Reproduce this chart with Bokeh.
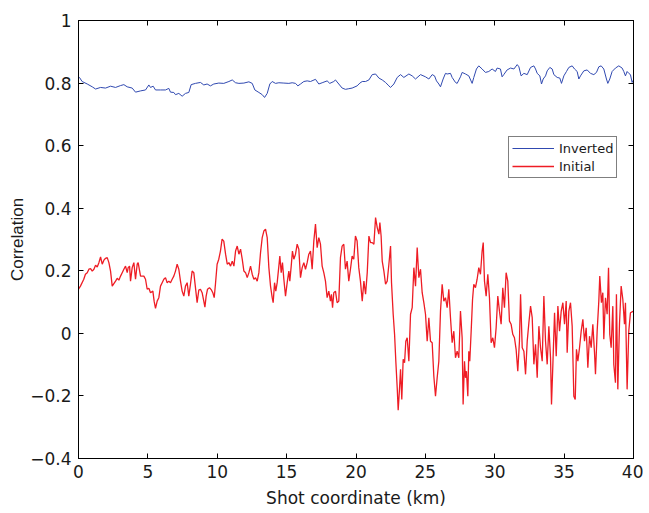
from bokeh.plotting import figure
from bokeh.models import Range1d, FixedTicker, LinearAxis, Legend, LegendItem
from bokeh.embed import file_html
from bokeh.resources import INLINE

# ---------------- data ----------------
x_ticks = [0, 5, 10, 15, 20, 25, 30, 35, 40]
y_ticks = [-0.4, -0.2, 0, 0.2, 0.4, 0.6, 0.8, 1]
y_tick_labels = ["\u22120.4", "\u22120.2", "0", "0.2", "0.4", "0.6", "0.8", "1"]

initial_x = [
    0.0, 0.14, 0.38, 0.5, 0.63, 0.75, 0.87, 0.99, 1.11, 1.23, 1.35, 1.47, 1.59, 1.71, 1.83, 1.95,
    2.07, 2.19, 2.31, 2.43, 2.55, 2.67, 2.79, 2.91, 3.03, 3.15, 3.27, 3.39, 3.51, 3.58, 3.68, 3.75,
    3.87, 3.99, 4.11, 4.23, 4.3, 4.47, 4.71, 4.83, 4.95, 5.07, 5.19, 5.36, 5.45, 5.55, 5.67, 5.79,
    5.91, 6.03, 6.15, 6.27, 6.39, 6.51, 6.63, 6.75, 6.87, 6.99, 7.11, 7.23, 7.35, 7.47, 7.59, 7.71,
    7.83, 7.95, 8.07, 8.19, 8.31, 8.43, 8.55, 8.67, 8.79, 8.91, 9.03, 9.11, 9.2, 9.3, 9.44, 9.59,
    9.68, 9.78, 9.87, 9.99, 10.11, 10.23, 10.35, 10.47, 10.6, 10.72, 10.84, 10.96, 11.08, 11.2,
    11.32, 11.44, 11.56, 11.68, 11.8, 11.92, 12.04, 12.16, 12.28, 12.4, 12.52, 12.64, 12.76, 12.88,
    13.0, 13.12,
    13.24, 13.36, 13.48, 13.6, 13.72, 13.84, 13.96, 14.03, 14.13, 14.22, 14.32, 14.44, 14.51, 14.61,
    14.7, 14.8, 14.92, 15.04, 15.16, 15.23, 15.33, 15.42, 15.52, 15.64, 15.76, 15.88, 16.0, 16.12,
    16.24, 16.36, 16.48, 16.6, 16.72, 16.84, 16.96, 17.08, 17.2, 17.32, 17.44, 17.56, 17.68, 17.8,
    17.92, 18.04, 18.16, 18.23, 18.31, 18.4, 18.52, 18.64, 18.76, 18.88, 19.0, 19.12, 19.24, 19.36,
    19.48, 19.6, 19.72, 19.84, 19.96, 20.08, 20.2, 20.32, 20.45, 20.57, 20.69, 20.81, 20.93, 21.05,
    21.17, 21.29, 21.41, 21.53, 21.65, 21.72, 21.81, 21.89, 22.01, 22.13, 22.25, 22.37, 22.49, 22.56,
    22.68, 22.78, 22.87, 22.97, 23.04, 23.14, 23.21, 23.3, 23.4, 23.5, 23.59, 23.69, 23.81, 23.93,
    24.05, 24.17, 24.29, 24.41, 24.53, 24.65, 24.77, 24.89, 25.01, 25.13, 25.25, 25.37, 25.49, 25.61,
    25.73, 25.85, 25.97, 26.09,
    26.21, 26.33, 26.45, 26.57, 26.69, 26.81, 26.93, 27.05, 27.17, 27.29, 27.41, 27.53, 27.65, 27.72,
    27.82, 27.89, 27.96, 28.06, 28.13, 28.2, 28.3, 28.4, 28.49, 28.61, 28.73, 28.85, 28.97, 29.09,
    29.17, 29.26, 29.38, 29.5, 29.62, 29.74, 29.86, 29.98, 30.1, 30.22, 30.34, 30.46, 30.58, 30.7,
    30.82, 30.94, 31.06, 31.18, 31.3, 31.42, 31.54, 31.66, 31.78, 31.86, 31.98, 32.1, 32.22, 32.34,
    32.46, 32.58, 32.7, 32.82, 32.94, 33.06, 33.18, 33.3, 33.42, 33.54, 33.66, 33.78, 33.9, 34.02,
    34.09, 34.19, 34.31, 34.43, 34.55, 34.67, 34.79, 34.91, 35.03, 35.15, 35.22, 35.34, 35.46, 35.58,
    35.7, 35.8, 35.89, 35.99, 36.11, 36.23, 36.35, 36.47, 36.59, 36.71, 36.83, 36.95, 37.07, 37.19,
    37.26, 37.38, 37.5, 37.57, 37.69, 37.79, 37.86, 37.98, 38.1, 38.2, 38.29, 38.39, 38.51, 38.58,
    38.7, 38.77, 38.87, 38.99, 39.11, 39.23, 39.35, 39.42, 39.54, 39.66, 39.78, 40.0,
]
initial_y = [
    0.141, 0.151, 0.173, 0.189, 0.194, 0.205, 0.207, 0.199, 0.205, 0.218,
    0.212, 0.226, 0.244, 0.221, 0.234, 0.24, 0.242, 0.226, 0.199, 0.151,
    0.159, 0.167, 0.176, 0.17, 0.183, 0.194, 0.205, 0.215, 0.194, 0.21,
    0.215, 0.167, 0.21, 0.226, 0.173, 0.221, 0.226, 0.183, 0.183, 0.173,
    0.141, 0.144, 0.13, 0.135, 0.103, 0.08, 0.103, 0.114, 0.151, 0.162,
    0.173, 0.178, 0.162, 0.167, 0.162, 0.173, 0.183, 0.199, 0.221, 0.205,
    0.167, 0.135, 0.119, 0.151, 0.162, 0.119, 0.157, 0.199, 0.194, 0.146,
    0.098, 0.138, 0.141, 0.13, 0.103, 0.084, 0.119, 0.141, 0.146, 0.138,
    0.13, 0.114, 0.157, 0.221, 0.237, 0.263, 0.301, 0.295, 0.253, 0.221,
    0.226, 0.215, 0.231, 0.215, 0.263, 0.279, 0.253, 0.269, 0.237, 0.199,
    0.194, 0.178, 0.194, 0.215, 0.189, 0.173, 0.178, 0.167, 0.194, 0.258,
    0.306, 0.327, 0.333, 0.306, 0.21, 0.151, 0.114, 0.098, 0.162, 0.135,
    0.162, 0.215, 0.247, 0.194, 0.226, 0.173, 0.119, 0.162, 0.199, 0.167,
    0.215, 0.263, 0.237, 0.253, 0.285, 0.269, 0.178, 0.21, 0.226, 0.205,
    0.226, 0.253, 0.263, 0.205, 0.295, 0.349, 0.274, 0.306, 0.285, 0.215,
    0.194, 0.167, 0.114, 0.135, 0.103, 0.125, 0.082, 0.13, 0.135, 0.098,
    0.103, 0.242, 0.279, 0.285, 0.205, 0.231, 0.167, 0.205, 0.247, 0.237,
    0.311, 0.295, 0.21, 0.167, 0.103, 0.167, 0.125, 0.194, 0.311, 0.29,
    0.29, 0.285, 0.37, 0.338, 0.317, 0.354, 0.311, 0.231, 0.199, 0.157,
    0.167, 0.221, 0.279, 0.162, 0.061, -0.003, -0.089, -0.174, -0.246, -0.174,
    -0.115, -0.211, -0.083, -0.094, -0.025, -0.014, -0.089, 0.061, 0.082, 0.21,
    0.151, 0.274, 0.178, 0.205, 0.13, 0.098, 0.061, -0.025, 0.05, -0.025,
    -0.03, -0.137, -0.201, -0.142, -0.089, 0.071,
    0.157, 0.103, 0.114, 0.082, 0.141, 0.05, -0.03, 0.007, -0.078, -0.057,
    -0.078, 0.071, -0.014, -0.227, -0.089, -0.142, -0.121, -0.201, -0.057, -0.089,
    0.007, 0.109, 0.157, 0.146, 0.173, 0.21, 0.189, 0.263, 0.29, 0.167,
    0.119, 0.189, 0.114, -0.03, -0.014, -0.046, 0.018, 0.119, 0.071, 0.029,
    0.146, 0.082, 0.194, 0.167, 0.039, 0.029, -0.003, -0.014, -0.051, -0.121,
    -0.025, 0.125, -0.046, -0.057, -0.131, -0.025, 0.034, 0.087, 0.05, -0.099,
    -0.035, -0.142, 0.023, -0.046, -0.089, 0.119, -0.025, -0.099, 0.023, -0.078,
    -0.227, -0.099, 0.066, -0.073, 0.087, 0.007, 0.071, 0.098, 0.029, 0.103,
    -0.062, 0.071, 0.098, 0.023, -0.201, -0.211, -0.051, -0.089, -0.046, 0.007,
    0.045, -0.025, 0.018, -0.11, -0.009, -0.046, 0.029, -0.062, -0.131, 0.007,
    0.103, 0.183, 0.098, 0.13, -0.019, 0.114, 0.061, 0.21, -0.003, -0.046,
    0.087, -0.099, -0.158, 0.125, -0.179, 0.029, 0.151, 0.109, 0.029, 0.098,
    -0.179, 0.007, 0.066, 0.071,
]

inverted_x = [
    0.0, 0.07, 0.26, 0.63, 0.99, 1.23, 1.59, 1.95, 2.31, 2.67,
    3.03, 3.27, 3.51, 3.87, 4.11, 4.47, 4.83, 5.07, 5.19, 5.38,
    5.55, 5.91, 6.27, 6.51, 6.63, 6.87, 6.99, 7.23, 7.47, 7.71,
    7.95, 8.12, 8.43, 8.79, 9.03, 9.27, 9.51, 9.75, 10.11, 10.47,
    10.84, 11.08, 11.32, 11.56, 11.92, 12.28, 12.52, 12.71, 13.0, 13.24,
    13.41, 13.6, 13.79, 13.96, 14.2, 14.44, 14.8, 15.16, 15.4, 15.64,
    15.81, 16.0, 16.24, 16.48, 16.72, 17.08, 17.32, 17.56, 17.92, 18.11,
    18.4, 18.52, 18.76, 19.0, 19.24, 19.48, 19.72, 20.08, 20.28,
    20.45, 20.69, 20.93, 21.17, 21.41, 21.65, 21.89, 22.13, 22.37, 22.49,
    22.73, 22.97, 23.21, 23.45, 23.81, 24.05, 24.29, 24.65, 25.01, 25.25,
    25.49, 25.66, 25.8, 25.97, 26.09, 26.28, 26.45, 26.57, 26.81, 26.93,
    27.17, 27.29, 27.53, 27.65, 27.89, 28.13, 28.37, 28.49, 28.68, 28.85,
    29.09, 29.33, 29.57, 29.81, 30.05, 30.17, 30.41, 30.53, 30.65, 30.89,
    31.14, 31.38, 31.62, 31.74, 31.9, 32.1, 32.34, 32.58, 32.82, 32.94,
    33.06, 33.25, 33.37, 33.49, 33.66, 33.78, 33.97, 34.14, 34.26, 34.5,
    34.69, 34.81, 34.98, 35.17, 35.34, 35.58, 35.75, 35.94, 36.06, 36.18,
    36.42, 36.66, 36.9, 37.14, 37.33, 37.5, 37.67, 37.86, 38.05, 38.15,
    38.29, 38.46, 38.7, 38.94, 39.18, 39.3, 39.42, 39.54, 39.66, 39.78,
    39.9, 40.0,
]
inverted_y = [
    0.82, 0.818, 0.805, 0.797, 0.788, 0.781, 0.786, 0.784, 0.79, 0.786,
    0.792, 0.795, 0.788, 0.784, 0.771, 0.775, 0.778, 0.794, 0.786, 0.79,
    0.778, 0.778, 0.778, 0.783, 0.771, 0.77, 0.763, 0.767, 0.758, 0.767,
    0.77, 0.795, 0.799, 0.802, 0.794, 0.797, 0.791, 0.797, 0.8, 0.799,
    0.805, 0.81, 0.801, 0.799, 0.8, 0.804, 0.799, 0.778, 0.77, 0.763,
    0.754, 0.767, 0.797, 0.805, 0.799, 0.801, 0.8, 0.799, 0.801, 0.799,
    0.791, 0.797, 0.805, 0.807, 0.805, 0.812, 0.797, 0.801, 0.807, 0.799,
    0.805, 0.81, 0.797, 0.784, 0.78, 0.782, 0.784, 0.791, 0.8,
    0.805, 0.805, 0.81, 0.827, 0.829, 0.816, 0.81, 0.802, 0.791, 0.786,
    0.797, 0.818, 0.827, 0.818, 0.829, 0.823, 0.813, 0.827, 0.82, 0.813,
    0.827, 0.823, 0.807, 0.797, 0.788, 0.813, 0.831, 0.829, 0.831, 0.818,
    0.802, 0.799, 0.82, 0.834, 0.829, 0.823, 0.799, 0.818, 0.845, 0.855,
    0.845, 0.834, 0.837, 0.845, 0.837, 0.848, 0.845, 0.82, 0.827, 0.842,
    0.848, 0.845, 0.859, 0.852, 0.823, 0.831, 0.827, 0.85, 0.855, 0.845,
    0.831, 0.823, 0.797, 0.813, 0.823, 0.839, 0.85, 0.845, 0.827, 0.818,
    0.816, 0.799, 0.823, 0.837, 0.85, 0.855, 0.845, 0.837, 0.813, 0.823,
    0.839, 0.842, 0.831, 0.827, 0.834, 0.852, 0.855, 0.845, 0.813, 0.799,
    0.813, 0.837, 0.848, 0.855, 0.848, 0.837, 0.823, 0.837, 0.831, 0.827,
    0.802, 0.81,
]

# ---------------- figure ----------------
TICK_FONT = "DejaVu Sans"
LABEL_FONT = "Liberation Sans"
TEXT_COLOR = "#1a1a1a"

p = figure(width=643, height=511, output_backend="svg", toolbar_location=None,
           x_range=Range1d(0, 40), y_range=Range1d(-0.4, 1),
           min_border_left=78, min_border_right=10, min_border_top=20, min_border_bottom=53)
p.background_fill_color = "white"
p.border_fill_color = "white"
p.outline_line_color = "black"
p.outline_line_width = 1
p.outline_line_alpha = 1
p.grid.visible = False

r_inv = p.line(inverted_x, inverted_y, line_color="#3049b0", line_width=1)
r_ini = p.line(initial_x, initial_y, line_color="#ee1c24", line_width=1.3)

def style_axis(ax):
    ax.axis_line_color = "black"
    ax.axis_line_width = 1
    ax.major_tick_in = 5
    ax.major_tick_out = 0
    ax.minor_tick_line_color = None
    ax.major_tick_line_color = "black"
    ax.major_label_text_font = TICK_FONT
    ax.major_label_text_font_size = "17px"
    ax.major_label_text_color = TEXT_COLOR
    ax.axis_label_text_font_size = "17px"
    ax.axis_label_text_font_style = "normal"
    ax.axis_label_text_color = TEXT_COLOR

xa = p.xaxis[0]
style_axis(xa)
xa.ticker = FixedTicker(ticks=x_ticks)
xa.axis_label = "Shot coordinate (km)"
xa.axis_label_text_font = TICK_FONT
xa.major_label_standoff = 6
xa.axis_label_standoff = 7

ya = p.yaxis[0]
style_axis(ya)
ya.ticker = FixedTicker(ticks=y_ticks)
ya.major_label_overrides = {t: lab for t, lab in zip(y_ticks, y_tick_labels)}
ya.axis_label = "Correlation"
ya.axis_label_text_font = LABEL_FONT
ya.major_label_standoff = 7
ya.axis_label_standoff = 0

# mirrored tick marks on top and right (MATLAB box style), no labels
top = LinearAxis(ticker=FixedTicker(ticks=x_ticks))
right = LinearAxis(ticker=FixedTicker(ticks=y_ticks))
for ax in (top, right):
    style_axis(ax)
    ax.major_label_text_color = None
    ax.major_label_text_font_size = "1px"
    ax.major_label_standoff = 0
    ax.axis_label = None
p.add_layout(top, "above")
p.add_layout(right, "right")

legend = Legend(items=[LegendItem(label="Inverted", renderers=[r_inv]),
                       LegendItem(label="Initial", renderers=[r_ini])],
                location=(430, 280))
legend.border_line_color = "black"
legend.border_line_width = 1
legend.background_fill_color = "white"
legend.background_fill_alpha = 1
legend.label_text_font = TICK_FONT
legend.label_text_font_size = "13px"
legend.label_text_color = TEXT_COLOR
legend.padding = 3
legend.spacing = 2
legend.margin = 0
legend.glyph_width = 42
legend.glyph_height = 16
legend.label_height = 16
legend.label_standoff = 5
p.add_layout(legend)

open("out.html", "w").write(file_html(p, INLINE))
